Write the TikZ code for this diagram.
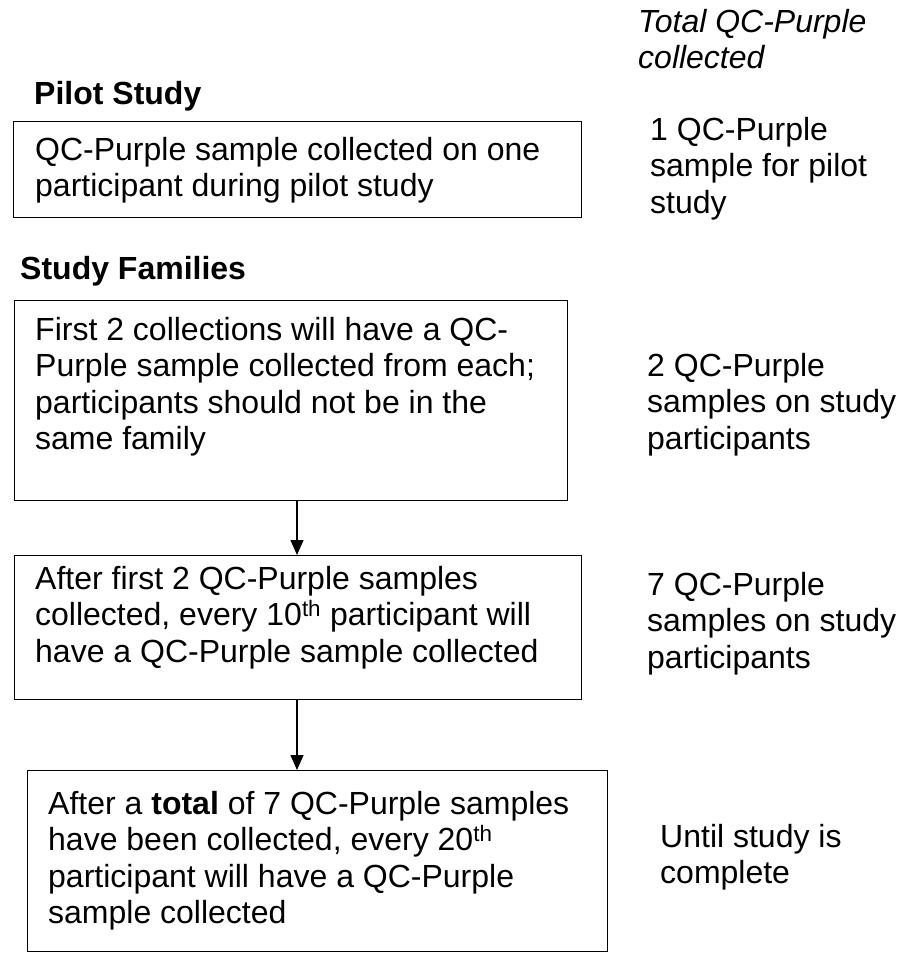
\documentclass[tikz,border=0pt]{standalone}
\usepackage{fontspec}
\setmainfont{Liberation Sans}
\usetikzlibrary{arrows.meta}
\newcommand{\fl}{\rule{0pt}{26pt}}
\begin{document}
\begin{tikzpicture}[x=1pt,y=-1pt,
  txt/.style={anchor=north west, inner sep=0pt, align=left, font=\fontsize{32}{36.5}\selectfont},
  hd/.style={anchor=north west, inner sep=0pt, align=left, font=\fontsize{32}{36.5}\selectfont\bfseries},
  box/.style={draw, line width=1.4pt, anchor=north west, inner sep=0pt},
  arr/.style={line width=1.4pt, -{Triangle[length=15pt,width=13pt]}}]
\useasboundingbox (0,0) rectangle (917,953);
% header
\node[txt, font=\fontsize{32}{36.5}\selectfont\itshape] (head) at (638,6) {\fl Total QC-Purple\\collected};
% pilot
\node[hd] (hpilot) at (34,78) {\fl Pilot Study};
\node[box, minimum width=568pt, minimum height=96pt] (b1) at (13,121) {};
\node[txt] (t1) at (35,134) {\fl QC-Purple sample collected on one\\participant during pilot study};
\node[txt] (r1) at (650,114) {\fl 1 QC-Purple\\sample for pilot\\study};
% study families
\node[hd] (hfam) at (20,253) {\fl Study Families};
\node[box, minimum width=553pt, minimum height=200pt] (b2) at (14,300) {};
\node[txt] (t2) at (35,314) {\fl First 2 collections will have a QC-\\Purple sample collected from each;\\participants should not be in the\\same family};
\node[txt] (r2) at (647,350) {\fl 2 QC-Purple\\samples on study\\participants};
\node[box, minimum width=567pt, minimum height=144pt] (b3) at (14,555) {};
\node[txt] (t3) at (35,563) {\fl After first 2 QC-Purple samples\\collected, every 10\textsuperscript{th} participant will\\have a QC-Purple sample collected};
\node[txt] (r3) at (647,569) {\fl 7 QC-Purple\\samples on study\\participants};
\node[box, minimum width=580pt, minimum height=181pt] (b4) at (27,770) {};
\node[txt] (t4) at (48,788) {\fl After a \textbf{total} of 7 QC-Purple samples\\have been collected, every 20\textsuperscript{th}\\participant will have a QC-Purple\\sample collected};
\node[txt] (r4) at (660,821) {\fl Until study is\\complete};
% arrows
\coordinate (a1) at (297,0);
\draw[arr] (b2.south -| a1) -- (b3.north -| a1);
\draw[arr] (b3.south -| a1) -- (b4.north -| a1);
\end{tikzpicture}
\end{document}
